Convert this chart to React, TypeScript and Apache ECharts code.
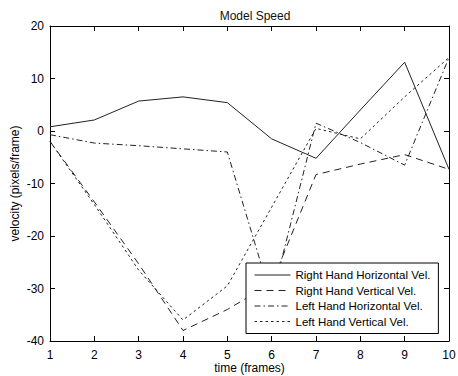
import { useEffect, useRef } from "react";
import * as echarts from "echarts";

const frames = [1, 2, 3, 4, 5, 6, 7, 8, 9, 10];
const seriesNames = [
  "Right Hand Horizontal Vel.",
  "Right Hand Vertical Vel.",
  "Left Hand Horizontal Vel.",
  "Left Hand Vertical Vel.",
];
const rightHandHorizontal = [0.8, 2.1, 5.7, 6.5, 5.4, -1.5, -5.2, 4, 13.1, -7.3];
const rightHandVertical = [-2, -13.5, -25.3, -38, -34, -29, -8.3, -6.3, -4.5, -7.3];
const leftHandHorizontal = [-0.7, -2.3, -2.8, -3.4, -4, -32, 1.5, -2.2, -6.5, 14];
const leftHandVertical = [-2, -14, -26.5, -36, -29.5, -14.5, 0.5, -1.5, 6.5, 14];
const yTicks = { min: -40, max: 20, interval: 10 };
const xTicks = { min: 1, max: 10, interval: 1 };

export default function App() {
  const ref = useRef<HTMLDivElement>(null);
  useEffect(() => {
    document.body.style.margin = "0";
    const chart = echarts.init(ref.current!, null, { renderer: "svg" });
    const font = "'Liberation Sans', Arial, Helvetica, sans-serif";
    const ink = "#222";
    const mk = (name: string, data: number[], type: any) => ({
      name,
      type: "line",
      data: frames.map((f, i) => [f, data[i]]),
      symbol: "none",
      silent: true,
      lineStyle: { color: ink, width: 1, type },
      itemStyle: { color: ink },
      z: 2,
    });
    const axisLine = { show: true, onZero: false, lineStyle: { color: "#000", width: 1 } };
    const axisTick = { show: true, inside: true, length: 5, lineStyle: { color: "#000", width: 1 } };
    const label = { color: "#000", fontSize: 12, fontFamily: font };
    chart.setOption({
      animation: false,
      backgroundColor: "#fff",
      textStyle: { fontFamily: font, color: "#000" },
      title: {
        text: "Model Speed",
        left: 250,
        top: 5,
        textAlign: "center",
        textStyle: { fontSize: 12, fontWeight: "normal", color: "#111", fontFamily: font },
      },
      grid: { left: 50, right: 9, top: 26, bottom: 35, containLabel: false, outerBoundsMode: "none" },
      legend: {
        orient: "vertical",
        left: 246,
        top: 263,
        backgroundColor: "#fff",
        borderColor: "#000",
        borderWidth: 1,
        borderRadius: 0,
        padding: [6, 8, 6, 8],
        itemWidth: 36,
        itemHeight: 14,
        itemGap: 3.5,
        selectedMode: false,
        itemStyle: { opacity: 0, borderWidth: 0 },
        lineStyle: { width: 1 },
        textStyle: { fontSize: 11.5, color: "#000", fontFamily: font },
        data: seriesNames,
      },
      xAxis: [
        {
          type: "value",
          ...xTicks,
          position: "bottom",
          name: "time (frames)",
          nameLocation: "middle",
          nameGap: 21,
          nameMoveOverlap: false,
          nameTextStyle: { ...label },
          axisLine,
          axisTick,
          axisLabel: { ...label, margin: 8 },
          splitLine: { show: false },
        },
        {
          type: "value",
          ...xTicks,
          position: "top",
          axisLine,
          axisTick,
          axisLabel: { show: false },
          splitLine: { show: false },
        },
      ],
      yAxis: [
        {
          type: "value",
          ...yTicks,
          position: "left",
          name: "velocity (pixels/frame)",
          nameLocation: "middle",
          nameGap: 29,
          nameMoveOverlap: false,
          nameTextStyle: { ...label },
          axisLine,
          axisTick,
          axisLabel: { ...label, margin: 6 },
          splitLine: { show: false },
        },
        {
          type: "value",
          ...yTicks,
          position: "right",
          axisLine,
          axisTick,
          axisLabel: { show: false },
          splitLine: { show: false },
        },
      ],
      series: [
        mk(seriesNames[0], rightHandHorizontal, "solid"),
        mk(seriesNames[1], rightHandVertical, [7, 5]),
        mk(seriesNames[2], leftHandHorizontal, [6, 3, 1.5, 3]),
        mk(seriesNames[3], leftHandVertical, [2.5, 3]),
      ],
    });
    return () => chart.dispose();
  }, []);
  return <div ref={ref} style={{ width: 458, height: 376 }} />;
}
